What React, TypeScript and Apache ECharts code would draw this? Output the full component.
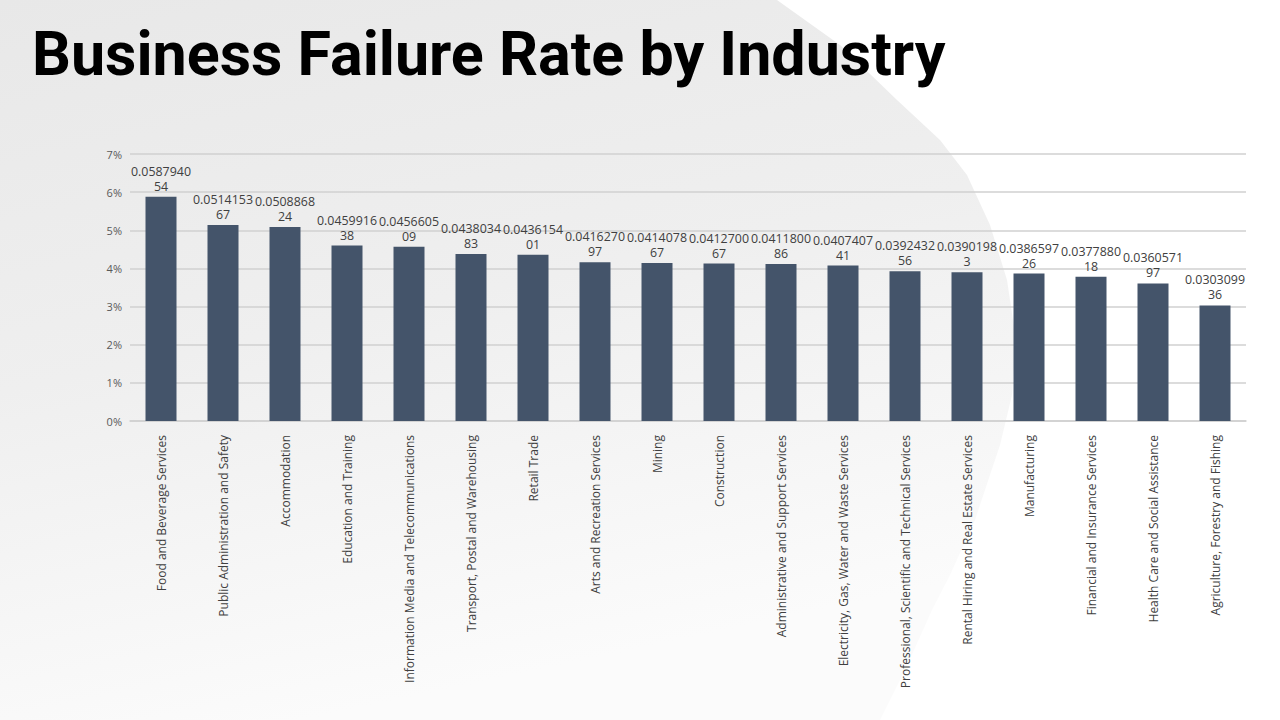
import React, { useEffect, useRef } from "react";
import * as echarts from "echarts";

const categories: string[] = [
  "Food and Beverage Services",
  "Public Administration and Safety",
  "Accommodation",
  "Education and Training",
  "Information Media and Telecommunications",
  "Transport, Postal and Warehousing",
  "Retail Trade",
  "Arts and Recreation Services",
  "Mining",
  "Construction",
  "Administrative and Support Services",
  "Electricity, Gas, Water and Waste Services",
  "Professional, Scientific and Technical Services",
  "Rental Hiring and Real Estate Services",
  "Manufacturing",
  "Financial and Insurance Services",
  "Health Care and Social Assistance",
  "Agriculture, Forestry and Fishing",
];

const failureRates: number[] = [
  0.058794054, 0.051415367, 0.050886824, 0.045991638, 0.045660509,
  0.043803483, 0.043615401, 0.041627097, 0.041407867, 0.041270067,
  0.041180086, 0.040740741, 0.039243256, 0.03901983, 0.038659726,
  0.037788018, 0.036057197, 0.030309936,
];

const yTicks = { min: 0, max: 0.07, interval: 0.01 };
const titleText = "Business Failure Rate by Industry";

export default function App() {
  const ref = useRef<HTMLDivElement>(null);
  useEffect(() => {
    if (!ref.current) return;
    const chart = echarts.init(ref.current, null, { renderer: "svg" });
    const font = "'Open Sans', 'Liberation Sans', sans-serif";
    chart.setOption({
      animation: false,
      backgroundColor: "#ffffff",
      graphic: [
        {
          type: "polygon",
          z: -10,
          silent: true,
          shape: {
            points: [
              [0, 0], [777, 0], [840, 45], [897, 100], [940, 140], [967, 175],
              [990, 225], [1007, 280], [1016, 340], [1012, 395], [1000, 445],
              [975, 520], [950, 575], [932, 610], [905, 670], [880, 720], [0, 720],
            ],
          },
          style: {
            fill: {
              type: "linear", x: 0, y: 0, x2: 0.3, y2: 1,
              colorStops: [
                { offset: 0, color: "#e8e8e8" },
                { offset: 0.5, color: "#efefef" },
                { offset: 1, color: "#fbfbfb" },
              ],
            },
          },
        },
        {
          type: "text",
          left: 32,
          top: 23,
          z: 10,
          style: {
            text: titleText,
            font: "bold 61px Roboto, 'Liberation Sans', sans-serif",
            fill: "#000000",
          },
        },
      ],
      grid: { left: 130, right: 34, top: 154, bottom: 299, containLabel: false },
      xAxis: {
        type: "category",
        data: categories,
        axisLine: { show: true, lineStyle: { color: "#d0d0d0", width: 1.5 } },
        axisTick: { show: false },
        axisLabel: {
          interval: 0,
          rotate: 90,
          margin: 14,
          color: "#404040",
          fontFamily: font,
          fontSize: 12,
        },
      },
      yAxis: {
        type: "value",
        min: yTicks.min,
        max: yTicks.max,
        interval: yTicks.interval,
        axisLine: { show: false },
        axisTick: { show: false },
        splitLine: { lineStyle: { color: "#d0d0d0", width: 1.5 } },
        axisLabel: {
          margin: 8,
          color: "#595959",
          fontFamily: font,
          fontSize: 11,
          formatter: (v: number) => Math.round(v * 100) + "%",
        },
      },
      series: [
        {
          type: "bar",
          data: failureRates,
          barWidth: "50%",
          itemStyle: { color: "#44546A" },
          label: {
            show: true,
            position: "top",
            distance: 3,
            color: "#404040",
            fontFamily: font,
            fontSize: 12.4,
            lineHeight: 15,
            formatter: (p: any) => {
              const s = String(p.value);
              return s.slice(0, 9) + "\n" + s.slice(9);
            },
          },
        },
      ],
    });
    return () => chart.dispose();
  }, []);
  return (
    <div
      ref={ref}
      style={{ position: "fixed", left: 0, top: 0, width: 1280, height: 720 }}
    />
  );
}
